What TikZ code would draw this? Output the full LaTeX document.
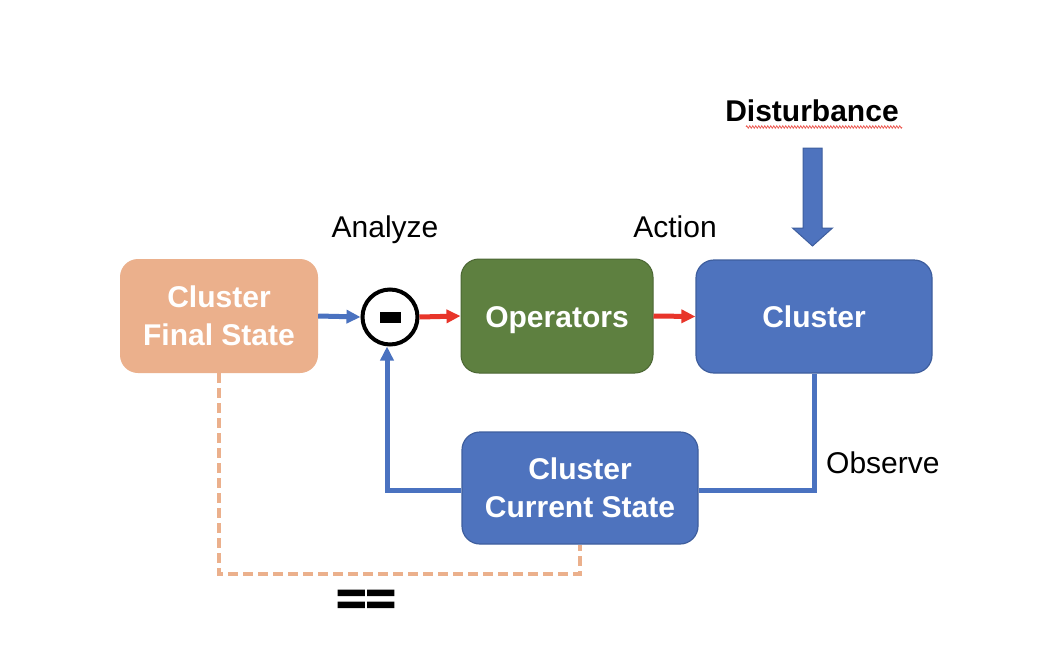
\documentclass[tikz,border=0pt]{standalone}
\usepackage{fontspec}
\setmainfont{Liberation Sans}
\usetikzlibrary{arrows.meta,decorations.pathmorphing,calc}
\font\eqfont="Liberation Sans/B:embolden=4" at 44pt
\definecolor{peach}{HTML}{EBB08C}
\definecolor{opgreen}{HTML}{5E8040}
\definecolor{cblue}{HTML}{4E73BE}
\definecolor{cblueedge}{HTML}{3E5E9E}
\definecolor{arrred}{HTML}{E8352A}
\definecolor{lineblue}{HTML}{4A72C0}
\tikzset{
  box/.style={rounded corners=18pt, minimum width=#1, minimum height=114pt, inner sep=0pt,
    text=white, align=center, font=\fontsize{30}{38}\selectfont\bfseries},
  box/.default=198pt,
  oneline/.style={text height=22pt, text depth=0pt},
  lbl/.style={font=\fontsize{30}{36}\selectfont, inner sep=0pt},
  bluearrow/.style={draw=lineblue, line width=5pt, -{Triangle[length=14pt,width=13pt]}},
  redarrow/.style={draw=arrred, line width=5pt, -{Triangle[length=14pt,width=13pt]}},
  blueline/.style={draw=lineblue, line width=5pt},
  dashline/.style={draw=peach, line width=3.5pt, dash pattern=on 10pt off 5pt}
}
\begin{document}
\begin{tikzpicture}[x=1pt,y=-1pt]
\useasboundingbox[fill=white] (0,0) rectangle (1042,654);
% nodes
\node[box=198pt, fill=peach] (final) at (219,316) {Cluster\\Final State};
\node[circle, draw=black, line width=4pt, fill=white, minimum size=55pt, inner sep=0pt] (minus) at (390,317) {\rule[-1pt]{21pt}{11pt}};
\node[box=192pt, fill=opgreen, draw=opgreen!80!black, line width=1pt, oneline] (ops) at (557,316) {Operators};
\node[box=236pt, fill=cblue, draw=cblueedge, line width=1.2pt, minimum height=113pt, oneline] (cluster) at (814,316.5) {Cluster};
\node[box=236pt, fill=cblue, draw=cblueedge, line width=1.2pt, minimum height=112pt] (current) at (580,488) {Cluster\\Current State};
% labels
\node[lbl, text height=22pt, text depth=0pt] (analyze) at (385,226) {Analyze};
\node[lbl] (action) at (675,227) {Action};
\node[lbl, anchor=west] (observe) at (826,463) {Observe};
\node[lbl, font=\fontsize{30}{36}\selectfont\bfseries] (dist) at (812,111) {Disturbance};
\node[inner sep=0pt, font=\eqfont, xscale=1.15] (eq) at (366,602) {==};
% spell-check squiggle
\coordinate (sq1) at (746,127);
\coordinate (sq2) at (902,127);
\draw[arrred!80, line width=0.8pt, decorate, decoration={zigzag, amplitude=1.2pt, segment length=3pt}] (sq1) -- (sq2);
% disturbance block arrow
\coordinate (dtop) at (812.5,148);
\fill[cblue, draw=cblueedge, line width=1pt]
  ($(dtop)+(-9.5,0)$) -- ($(dtop)+(9.5,0)$) -- ($(dtop)+(9.5,80)$) -- ($(dtop)+(20,80)$)
  -- ($(dtop)+(0,98)$) -- ($(dtop)+(-20,80)$) -- ($(dtop)+(-9.5,80)$) -- cycle;
% connectors
\draw[bluearrow] (final.east) -- (minus.west);
\draw[redarrow] (minus.east) -- (ops.west);
\draw[redarrow] (ops.east) -- (cluster.west);
\draw[blueline] (cluster.south) |- (current.east |- 0,490);
\draw[bluearrow] (current.west |- 0,490) -| (minus.south -| 387,0);
\draw[dashline] (final.south) -- (final.south |- 0,574) -| (current.south);
\end{tikzpicture}
\end{document}
